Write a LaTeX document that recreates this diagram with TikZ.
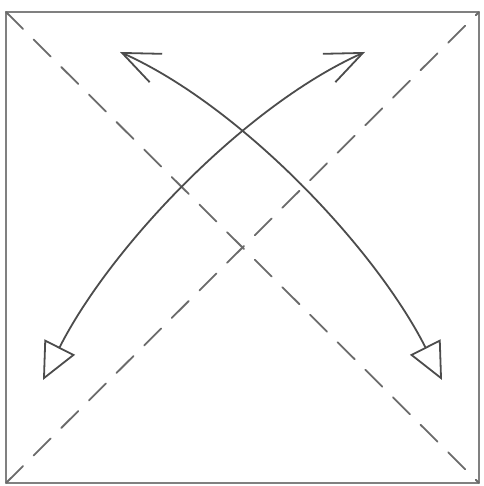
\documentclass[tikz,border=0pt]{standalone}
\usetikzlibrary{arrows.meta}
\definecolor{trait}{gray}{0.3}
\definecolor{cadre}{gray}{0.5}
\definecolor{tiret}{gray}{0.42}
\tikzset{
  pli/.style={tiret, line width=1.8pt, dash pattern=on 24pt off 15pt},
  fleche/.style={trait, line width=1.8pt,
    {Triangle[open,length=37pt,width=34pt]}-{Straight Barb[length=37pt,width=31pt]}}
}
\begin{document}
\begin{tikzpicture}[line cap=round,line join=round,x=1pt,y=1pt]
			\useasboundingbox (0,0) rectangle (483,486);
			% Carre
			\coordinate (bg) at (6,3);
			\coordinate (bd) at (479,3);
			\coordinate (hd) at (479,474);
			\coordinate (hg) at (6,474);
			\draw[cadre, line width=2.2pt] (bg) rectangle (hd);
			% Diagonales
			\draw[pli] (hg)--(bd);
			\draw[pli] (bg)--(hd);
			% Fleche 1
			\coordinate (p1) at (43,106);
			\coordinate (q1) at (365,434);
			\draw[fleche] (p1) .. controls (111,240) and (246,381) .. (q1);
			% Fleche 2
			\coordinate (p2) at (442,106);
			\coordinate (q2) at (120,434);
			\draw[fleche] (p2) .. controls (374,240) and (239,381) .. (q2);
\end{tikzpicture}
\end{document}
